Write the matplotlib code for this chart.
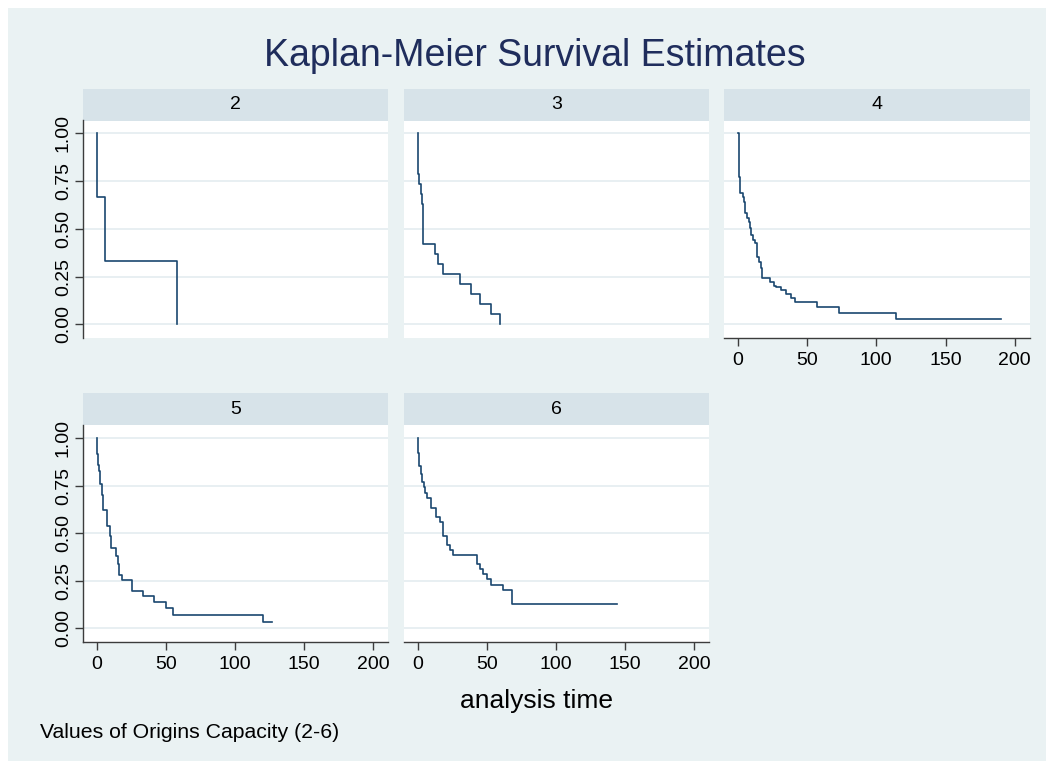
import matplotlib.pyplot as plt
from matplotlib.patches import Rectangle

plt.rcParams['font.family'] = ['Liberation Sans', 'DejaVu Sans']

# Kaplan-Meier step data (time, survival after the step)
groups = ["2", "3", "4", "5", "6"]

t2 = [0, 0.3, 6, 58]
s2 = [1, 0.667, 0.333, 0.0]

t3 = [0, 0.3, 1.2, 2.4, 3.1, 3.9, 12.6, 14.5, 18.4, 30.4, 38.9, 44.9, 52.7, 59.9]
s3 = [1, 0.789, 0.737, 0.684, 0.632, 0.421, 0.368, 0.316, 0.263, 0.211, 0.158, 0.105, 0.053, 0.0]

t4 = [0, 0.5, 1.2, 3.6, 4.8, 5.5, 6.5, 7.7, 8.7, 9.6, 10.8, 12.1, 13.5, 15.0, 16.4, 17.4,
      23.4, 26.1, 27.3, 31.4, 35.0, 38.2, 41.5, 57.0, 72.7, 114.5, 190]
s4 = [1, 0.773, 0.686, 0.668, 0.642, 0.581, 0.555, 0.534, 0.503, 0.468, 0.44, 0.424, 0.354,
      0.328, 0.293, 0.241, 0.223, 0.202, 0.197, 0.18, 0.157, 0.14, 0.119, 0.092, 0.061, 0.029, 0.029]

t5 = [0, 0.3, 1.0, 1.9, 2.4, 3.6, 4.8, 7.2, 9.6, 10.1, 14.0, 15.7, 16.4, 18.6, 25.8, 33.8,
      41.5, 50.2, 55.0, 120.7, 126.8]
s5 = [1, 0.914, 0.859, 0.827, 0.757, 0.702, 0.623, 0.536, 0.483, 0.422, 0.38, 0.339, 0.279,
      0.253, 0.195, 0.169, 0.14, 0.105, 0.07, 0.035, 0.035]

t6 = [0, 0.3, 0.75, 2.4, 3.2, 4.4, 5.3, 6.8, 9.7, 13.3, 15.9, 18.4, 20.8, 23.0, 25.6, 43.0,
      45.4, 47.4, 50.3, 52.7, 61.9, 68.4, 144]
s6 = [1, 0.92, 0.85, 0.81, 0.77, 0.74, 0.712, 0.686, 0.634, 0.586, 0.558, 0.485, 0.436, 0.41,
      0.385, 0.337, 0.31, 0.284, 0.258, 0.225, 0.199, 0.126, 0.126]

times = [t2, t3, t4, t5, t6]
survs = [s2, s3, s4, s5, s6]

xticks = [0, 50, 100, 150, 200]
yticks = [0, 0.25, 0.5, 0.75, 1.0]

W, H = 1054, 769
bg = "#EAF2F3"
strip_color = "#D7E3E9"
grid_color = "#E6EEF1"
line_color = "#1A476F"
title_color = "#1F2D5C"


def rect(x0, y0, x1, y1):
    return [x0 / W, 1 - y1 / H, (x1 - x0) / W, (y1 - y0) / H]


fig = plt.figure(figsize=(W / 100, H / 100), dpi=100)
fig.patch.set_facecolor("white")
fig.patches.append(Rectangle((8 / W, 8 / H), (W - 16) / W, (H - 16) / H,
                             transform=fig.transFigure, facecolor=bg,
                             edgecolor="none", zorder=-10))

col_x = [(83, 388), (404, 709), (724, 1030)]
row_y = [(89, 120.5, 338), (393, 425, 642)]

for i, g in enumerate(groups):
    row, col = divmod(i, 3)
    x0, x1 = col_x[col]
    st, pt, pb = row_y[row]

    sax = fig.add_axes(rect(x0, st, x1, pt))
    sax.set_facecolor(strip_color)
    sax.set_xticks([])
    sax.set_yticks([])
    for sp in sax.spines.values():
        sp.set_visible(False)
    sax.text(0.5, 0.5, g, ha="center", va="center", fontsize=14, transform=sax.transAxes)

    ax = fig.add_axes(rect(x0, pt, x1, pb))
    ax.set_facecolor("white")
    ax.step(times[i], survs[i], where="post", color=line_color, lw=1.2)
    ax.set_xlim(-10, 211)
    ax.set_ylim(-0.072, 1.068)
    ax.set_xticks(xticks)
    ax.set_yticks(yticks)
    ax.grid(axis="y", color=grid_color, lw=1.3)
    ax.set_axisbelow(True)
    for sp in ax.spines.values():
        sp.set_visible(False)

    if col == 0:
        ax.spines["left"].set_visible(True)
        ax.spines["left"].set_color("#3c3c3c")
        ax.spines["left"].set_linewidth(1.0)
        ax.set_yticklabels(["%.2f" % v for v in yticks])
        ax.tick_params(axis="y", length=6, width=1.0, color="#3c3c3c", labelsize=14, pad=2)
        plt.setp(ax.get_yticklabels(), rotation=90, va="center")
    else:
        ax.tick_params(axis="y", length=0, labelleft=False)

    if row == 1 or g == "4":
        ax.spines["bottom"].set_visible(True)
        ax.spines["bottom"].set_color("#3c3c3c")
        ax.spines["bottom"].set_linewidth(1.0)
        ax.tick_params(axis="x", length=6, width=1.0, color="#3c3c3c", labelsize=14, pad=4)
    else:
        ax.tick_params(axis="x", length=0, labelbottom=False)

fig.text(535 / W, 1 - 66 / H, "Kaplan-Meier Survival Estimates", ha="center",
         va="baseline", fontsize=27, color=title_color)
fig.text(537 / W, 1 - 708 / H, "analysis time", ha="center", va="baseline", fontsize=19)
fig.text(40 / W, 1 - 738 / H, "Values of Origins Capacity (2-6)", ha="left",
         va="baseline", fontsize=15.3)

fig.savefig("out.png", dpi=100, facecolor="white")
